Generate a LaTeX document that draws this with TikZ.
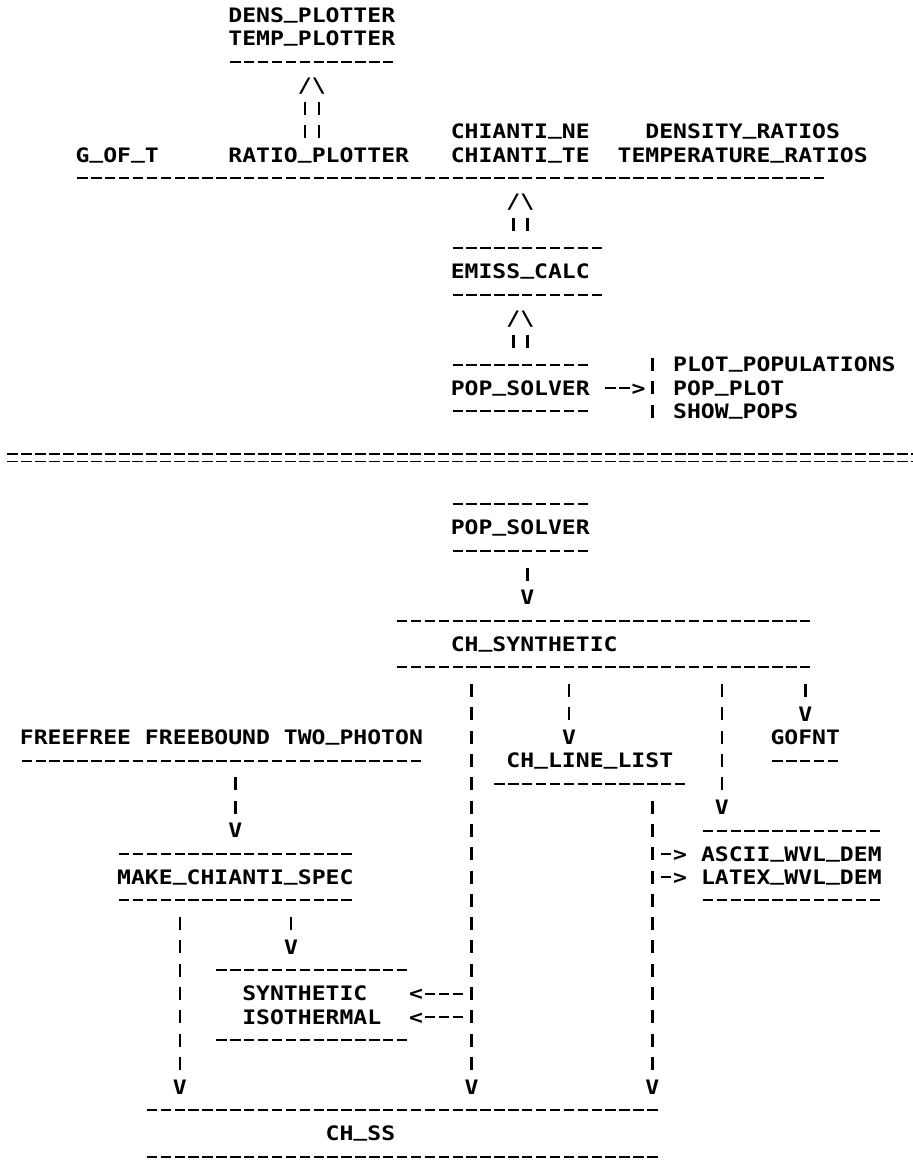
\documentclass[tikz,border=0pt]{standalone}
\usepackage{fontspec}
\newfontfamily\asciifam[FakeStretch=1.16]{DejaVu Sans Mono Bold}
\newcommand\asciifont{\asciifam\fontsize{19.9pt}{23.3pt}\selectfont}
\newcommand\us{\raisebox{0.19em}{\_}}
% text at column #2, row #3
\newcommand\Txt[4]{\node[lbl] (#1) at (#2,#3+0.31) {#4};}
% horizontal run of '-' from column #2 to column #3 on row #4
\newcommand\HRun[4]{%
  \coordinate (#1a) at (#2+0.125,#4);
  \coordinate (#1b) at (#3+1,#4);
  \draw[rowrule] (#1a) -- (#1b);}
% vertical run of '|' in column #2 from row #3 to row #4
\newcommand\VRun[4]{%
  \coordinate (#1a) at (#2+0.5,#3-0.28);
  \coordinate (#1b) at (#2+0.5,#4+0.28);
  \draw[piperule] (#1a) -- (#1b);}
\begin{document}
\begin{tikzpicture}[x=13.9pt,y=-23.3pt,
  lbl/.style={anchor=base west,inner sep=0pt,outer sep=0pt,font=\asciifont,text=black},
  rowrule/.style={line width=2pt,dash pattern=on 10.4pt off 3.5pt},
  piperule/.style={line width=2.5pt,dash pattern=on 13pt off 10.3pt},
  eqrule/.style={line width=1.8pt,dash pattern=on 11pt off 2.9pt}]
\fill[white] (-0.4317,-0.6438) rectangle (65.2518,49.1416);
\useasboundingbox (-0.4317,-0.6438) rectangle (65.2518,49.1416);

% ---------------- upper part ----------------
\Txt{tdens}{16}{0}{DENS\us PLOTTER}
\Txt{ttemp}{16}{1}{TEMP\us PLOTTER}
\HRun{h1}{16}{27}{2}
\Txt{up1}{21}{3}{/\textbackslash}
\VRun{p1}{21}{4}{5}
\VRun{p2}{22}{4}{5}
\Txt{tcne}{32}{5}{CHIANTI\us NE}
\Txt{tdr}{46}{5}{DENSITY\us RATIOS}
\Txt{tgof}{5}{6}{G\us OF\us T}
\Txt{tratio}{16}{6}{RATIO\us PLOTTER}
\Txt{tcte}{32}{6}{CHIANTI\us TE}
\Txt{ttr}{44}{6}{TEMPERATURE\us RATIOS}
\HRun{h2}{5}{58}{7}
\Txt{up2}{36}{8}{/\textbackslash}
\VRun{p3}{36}{9}{9}
\VRun{p4}{37}{9}{9}
\HRun{h3}{32}{42}{10}
\Txt{temiss}{32}{11}{EMISS\us CALC}
\HRun{h4}{32}{42}{12}
\Txt{up3}{36}{13}{/\textbackslash}
\VRun{p5}{36}{14}{14}
\VRun{p6}{37}{14}{14}
\HRun{h5}{32}{41}{15}
\VRun{p7}{46}{15}{17}
\Txt{tpp}{48}{15}{PLOT\us POPULATIONS}
\Txt{tpop1}{32}{16}{POP\us SOLVER}
\HRun{h6}{43}{44}{16}
\Txt{ar1}{45}{16}{>}
\Txt{tppl}{48}{16}{POP\us PLOT}
\HRun{h7}{32}{41}{17}
\Txt{tsp}{48}{17}{SHOW\us POPS}

% separator
\coordinate (eqa) at (0.1,19-0.165);
\coordinate (eqb) at (65.3,19-0.165);
\coordinate (eqc) at (0.1,19+0.165);
\coordinate (eqd) at (65.3,19+0.165);
\draw[eqrule] (eqa) -- (eqb);
\draw[eqrule] (eqc) -- (eqd);

% ---------------- lower part ----------------
\HRun{h8}{32}{41}{21}
\Txt{tpop2}{32}{22}{POP\us SOLVER}
\HRun{h9}{32}{41}{23}
\VRun{p8}{37}{24}{24}
\Txt{v1}{37}{25}{V}
\HRun{h10}{28}{57}{26}
\Txt{tchs}{32}{27}{CH\us SYNTHETIC}
\HRun{h11}{28}{57}{28}

\VRun{p9}{33}{29}{45}
\VRun{p10}{40}{29}{30}
\VRun{p11}{51}{29}{33}
\VRun{p12}{57}{29}{29}
\Txt{v2}{57}{30}{V}
\Txt{tfree}{1}{31}{FREEFREE FREEBOUND TWO\us PHOTON}
\Txt{v3}{40}{31}{V}
\Txt{tgofnt}{55}{31}{GOFNT}
\HRun{h12}{1}{29}{32}
\Txt{tcll}{36}{32}{CH\us LINE\us LIST}
\HRun{h13}{55}{59}{32}
\VRun{p13}{16}{33}{34}
\HRun{h14}{35}{48}{33}
\VRun{p14}{46}{34}{45}
\Txt{v4}{51}{34}{V}
\Txt{v5}{16}{35}{V}
\HRun{h15}{50}{62}{35}
\HRun{h16}{8}{24}{36}
\HRun{h17}{47}{47}{36}
\Txt{ar2}{48}{36}{>}
\Txt{tascii}{50}{36}{ASCII\us WVL\us DEM}
\Txt{tmcs}{8}{37}{MAKE\us CHIANTI\us SPEC}
\HRun{h18}{47}{47}{37}
\Txt{ar3}{48}{37}{>}
\Txt{tlatex}{50}{37}{LATEX\us WVL\us DEM}
\HRun{h19}{8}{24}{38}
\HRun{h20}{50}{62}{38}
\VRun{p15}{12}{39}{45}
\VRun{p16}{20}{39}{39}
\Txt{v6}{20}{40}{V}
\HRun{h21}{15}{28}{41}
\Txt{tsyn}{17}{42}{SYNTHETIC}
\Txt{ar4}{29}{42}{<}
\HRun{h22}{30}{32}{42}
\Txt{tiso}{17}{43}{ISOTHERMAL}
\Txt{ar5}{29}{43}{<}
\HRun{h23}{30}{32}{43}
\HRun{h24}{15}{28}{44}
\Txt{v7}{12}{46}{V}
\Txt{v8}{33}{46}{V}
\Txt{v9}{46}{46}{V}
\HRun{h25}{10}{46}{47}
\Txt{tchss}{23}{48}{CH\us SS}
\HRun{h26}{10}{46}{49}
\end{tikzpicture}
\end{document}
